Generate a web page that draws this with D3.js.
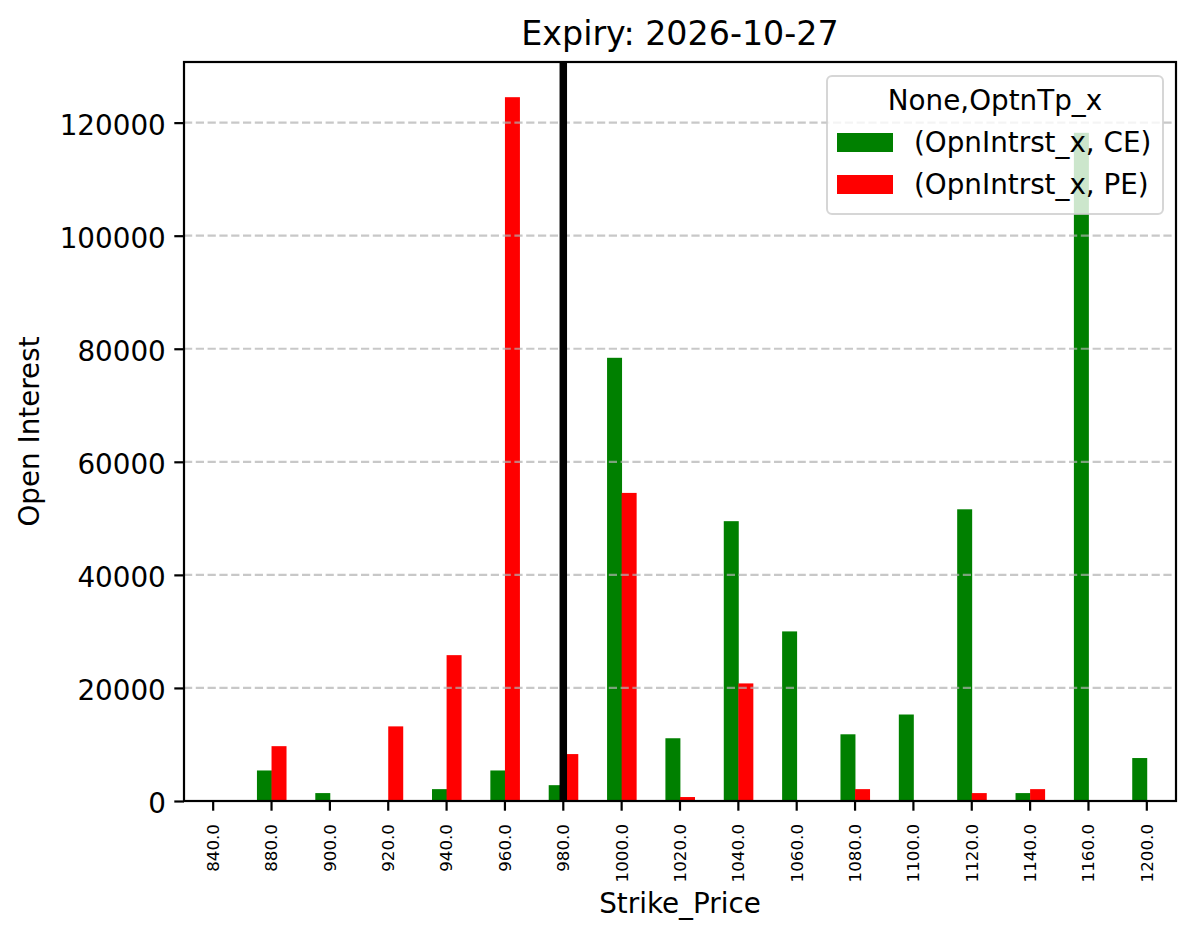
<!DOCTYPE html>
<html>
<head>
<meta charset="utf-8">
<script src="https://cdn.jsdelivr.net/npm/d3@7"></script>
<style>
  body { margin: 0; background: #fff; }
  svg { display: block; font-family: "DejaVu Sans", sans-serif; }
</style>
</head>
<body>
<div id="container"></div>
<script>
const strikes = ["840.0", "880.0", "900.0", "920.0", "940.0", "960.0", "980.0", "1000.0", "1020.0",
  "1040.0", "1060.0", "1080.0", "1100.0", "1120.0", "1140.0", "1160.0", "1200.0"];
const ceValues = [0, 5400, 1400, null, 2100, 5400, 2800, 78400, 11100, 49500, 30000, 11800, 15300, 51600, 1400, 118200, 7600];
const peValues = [0, 9700, null, 13200, 25800, 124500, 8300, 54500, 700, 20800, null, 2100, null, 1400, 2100, null, null];
const seriesNames = ["(OpnIntrst_x, CE)", "(OpnIntrst_x, PE)"];
const seriesColors = ["green", "red"];
const yTicks = [0, 20000, 40000, 60000, 80000, 100000, 120000];
const spotStrike = "980.0";
const title = "Expiry: 2026-10-27";

const width = 1196;
const height = 939;
const marginTop = 62;
const marginRight = 20;
const marginBottom = 138;
const marginLeft = 184;

const svg = d3.create("svg").attr("width", width).attr("height", height);

const x = d3.scaleBand()
  .domain(strikes)
  .range([marginLeft, width - marginRight])
  .padding(0);

// pandas bar plot: total width 0.5 of each slot, split between the two series
const xInner = d3.scaleBand()
  .domain([0, 1])
  .range([x.bandwidth() * 0.25, x.bandwidth() * 0.75]);

const allValues = ceValues.concat(peValues).filter((v) => v != null);
const y = d3.scaleLinear()
  .domain([0, d3.max(allValues) * 1.05])
  .range([height - marginBottom, marginTop]);

const rows = strikes.map((s, i) => ({ strike: s, values: [ceValues[i], peValues[i]] }));

// bars
const groups = svg.append("g")
  .selectAll("g")
  .data(rows)
  .join("g")
  .attr("transform", (d) => `translate(${x(d.strike)},0)`);

groups.selectAll("rect")
  .data((d) => d.values.map((v, k) => ({ k, v })).filter((e) => e.v != null))
  .join("rect")
  .attr("x", (e) => xInner(e.k))
  .attr("width", xInner.bandwidth() + 0.4)
  .attr("y", (e) => y(e.v))
  .attr("height", (e) => y(0) - y(e.v))
  .attr("fill", (e) => seriesColors[e.k]);

// grid (drawn above bars, like matplotlib)
svg.append("g")
  .selectAll("line")
  .data(yTicks)
  .join("line")
  .attr("x1", marginLeft)
  .attr("x2", width - marginRight)
  .attr("y1", (d) => y(d))
  .attr("y2", (d) => y(d))
  .attr("stroke", "#b0b0b0")
  .attr("stroke-opacity", 0.7)
  .attr("stroke-width", 2.2)
  .attr("stroke-dasharray", "8.2,3.6");

// spot line
svg.append("line")
  .attr("x1", x(spotStrike) + x.bandwidth() / 2)
  .attr("x2", x(spotStrike) + x.bandwidth() / 2)
  .attr("y1", marginTop)
  .attr("y2", height - marginBottom)
  .attr("stroke", "black")
  .attr("stroke-width", 7.5);

// x axis
const xAxis = svg.append("g")
  .attr("transform", `translate(0,${height - marginBottom})`)
  .call(d3.axisBottom(x).tickSizeOuter(0).tickSize(9.7).tickPadding(0));
xAxis.select(".domain").remove();
xAxis.selectAll(".tick line").attr("stroke-width", 2.2);
xAxis.selectAll(".tick text")
  .attr("font-family", "DejaVu Sans")
  .attr("font-size", "16.7px")
  .attr("fill", "black")
  .attr("text-anchor", "end")
  .attr("transform", "translate(0,23) rotate(-90)")
  .attr("x", 0)
  .attr("y", 0)
  .attr("dy", "0.35em");

// y axis
const yAxis = svg.append("g")
  .attr("transform", `translate(${marginLeft},0)`)
  .call(d3.axisLeft(y).tickValues(yTicks).tickFormat(d3.format("d")).tickSize(9.7).tickPadding(8.5));
yAxis.select(".domain").remove();
yAxis.selectAll(".tick line").attr("stroke-width", 2.2);
yAxis.selectAll(".tick text")
  .attr("font-family", "DejaVu Sans")
  .attr("font-size", "27.8px")
  .attr("fill", "black")
  .attr("dy", "0.42em");

// frame
svg.append("rect")
  .attr("x", marginLeft)
  .attr("y", marginTop)
  .attr("width", width - marginRight - marginLeft)
  .attr("height", height - marginBottom - marginTop)
  .attr("fill", "none")
  .attr("stroke", "black")
  .attr("stroke-width", 2.2);

// labels
svg.append("text")
  .attr("x", (marginLeft + width - marginRight) / 2)
  .attr("y", 45)
  .attr("text-anchor", "middle")
  .attr("font-size", "33.3px")
  .text(title);

svg.append("text")
  .attr("x", (marginLeft + width - marginRight) / 2)
  .attr("y", 913)
  .attr("text-anchor", "middle")
  .attr("font-size", "27.8px")
  .text("Strike_Price");

svg.append("text")
  .attr("transform", `translate(39,${(marginTop + height - marginBottom) / 2}) rotate(-90)`)
  .attr("text-anchor", "middle")
  .attr("font-size", "27.8px")
  .text("Open Interest");

// legend
const legend = svg.append("g").attr("transform", "translate(827,76)");
legend.append("rect")
  .attr("width", 336)
  .attr("height", 138)
  .attr("rx", 5)
  .attr("fill", "white")
  .attr("fill-opacity", 0.8)
  .attr("stroke", "#cccccc")
  .attr("stroke-opacity", 0.8)
  .attr("stroke-width", 2);

legend.append("text")
  .attr("x", 168)
  .attr("y", 34)
  .attr("text-anchor", "middle")
  .attr("font-size", "27.8px")
  .text("None,OptnTp_x");

const entries = legend.selectAll("g.entry")
  .data(seriesNames)
  .join("g")
  .attr("class", "entry")
  .attr("transform", (d, i) => `translate(10,${57 + i * 42})`);

entries.append("rect")
  .attr("width", 56)
  .attr("height", 19)
  .attr("fill", (d, i) => seriesColors[i]);

entries.append("text")
  .attr("x", 77)
  .attr("y", 18.5)
  .attr("font-size", "27.8px")
  .text((d) => d);

d3.select("#container").append(() => svg.node());
</script>
</body>
</html>
